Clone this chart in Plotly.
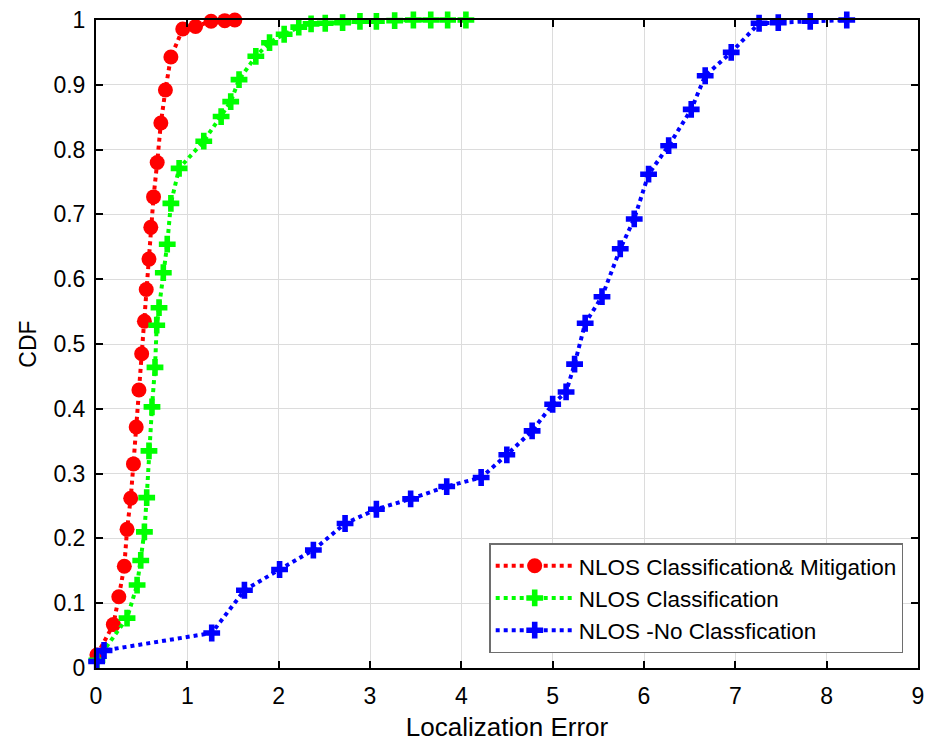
import plotly.graph_objects as go

# Red: NLOS Classification & Mitigation
red_x = [0.01, 0.19, 0.25, 0.31, 0.34, 0.38, 0.41, 0.44, 0.47, 0.50, 0.53, 0.55, 0.58, 0.60, 0.63, 0.67, 0.71, 0.76, 0.82, 0.95, 1.09, 1.26, 1.41, 1.52]
red_y = [0.020, 0.067, 0.110, 0.157, 0.214, 0.262, 0.315, 0.372, 0.429, 0.485, 0.535, 0.584, 0.631, 0.680, 0.727, 0.780, 0.841, 0.892, 0.943, 0.986, 0.990, 0.998, 0.999, 1.000]

# Green: NLOS Classification
green_x = [0.01, 0.34, 0.45, 0.49, 0.53, 0.555, 0.58, 0.613, 0.646, 0.665, 0.69, 0.737, 0.78, 0.82, 0.91, 1.18, 1.37, 1.475, 1.566, 1.75, 1.90, 2.06, 2.22, 2.355, 2.51, 2.70, 2.89, 3.07, 3.27, 3.475, 3.665, 3.85, 4.05]
green_y = [0.012, 0.077, 0.128, 0.166, 0.210, 0.263, 0.335, 0.403, 0.464, 0.529, 0.556, 0.610, 0.654, 0.717, 0.771, 0.813, 0.851, 0.874, 0.908, 0.944, 0.965, 0.978, 0.989, 0.994, 0.995, 0.996, 0.998, 0.998, 0.999, 1.000, 1.000, 1.000, 1.000]

# Blue: NLOS -No Classfication
blue_x = [0.007, 0.088, 1.267, 1.625, 2.01, 2.38, 2.727, 3.07, 3.445, 3.84, 4.217, 4.498, 4.775, 5.00, 5.147, 5.24, 5.356, 5.54, 5.74, 5.893, 6.05, 6.27, 6.517, 6.67, 6.955, 7.26, 7.47, 7.82, 8.22]
blue_y = [0.010, 0.027, 0.054, 0.120, 0.152, 0.182, 0.223, 0.245, 0.261, 0.280, 0.294, 0.329, 0.366, 0.407, 0.426, 0.469, 0.532, 0.573, 0.647, 0.693, 0.762, 0.806, 0.862, 0.914, 0.950, 0.995, 0.996, 0.998, 1.000]

x_ticks = [0, 1, 2, 3, 4, 5, 6, 7, 8, 9]
y_ticks = [0, 0.1, 0.2, 0.3, 0.4, 0.5, 0.6, 0.7, 0.8, 0.9, 1]
y_ticktext = ["0", "0.1", "0.2", "0.3", "0.4", "0.5", "0.6", "0.7", "0.8", "0.9", "1"]

FONT = "Liberation Sans, Arial, sans-serif"

fig = go.Figure()
fig.add_trace(go.Scatter(
    x=red_x, y=red_y, mode="lines+markers",
    name="NLOS Classification& Mitigation",
    line=dict(color="#ff0000", width=4, dash="dot"),
    marker=dict(symbol="circle", size=15, color="#ff0000", line=dict(width=0)),
    cliponaxis=False,
))
fig.add_trace(go.Scatter(
    x=green_x, y=green_y, mode="lines+markers",
    name="NLOS Classification",
    line=dict(color="#00ff00", width=4, dash="dot"),
    marker=dict(symbol="cross", size=14, color="#00ff00", line=dict(width=0)),
    cliponaxis=False,
))
fig.add_trace(go.Scatter(
    x=blue_x, y=blue_y, mode="lines+markers",
    name="NLOS -No Classfication",
    line=dict(color="#0000ff", width=4, dash="dot"),
    marker=dict(symbol="cross", size=14, color="#0000ff", line=dict(width=0)),
    cliponaxis=False,
))

axis_common = dict(
    showline=True, linecolor="black", linewidth=2, mirror="ticks",
    ticks="inside", ticklen=7, tickwidth=2, tickcolor="black",
    showgrid=True, gridcolor="#dcdcdc", gridwidth=1,
    zeroline=False, automargin=False,
    tickfont=dict(family=FONT, size=23, color="black"),
)

fig.update_layout(
    width=936, height=744,
    margin=dict(l=96, r=18, t=20, b=76),
    paper_bgcolor="white", plot_bgcolor="white",
    font=dict(family=FONT, color="black"),
    xaxis=dict(
        range=[0, 9], tickvals=x_ticks, ticklabelstandoff=6,
        title=dict(text="Localization Error", font=dict(family=FONT, size=26), standoff=10),
        **axis_common,
    ),
    yaxis=dict(
        range=[0, 1], tickvals=y_ticks, ticktext=y_ticktext, ticklabelstandoff=4,
        title=dict(text="CDF", font=dict(family=FONT, size=23), standoff=10),
        **axis_common,
    ),
    legend=dict(
        x=0.982, y=0.023, xanchor="right", yanchor="bottom",
        bgcolor="white", bordercolor="#6e6e6e", borderwidth=1.5,
        font=dict(family=FONT, size=22.5, color="black"),
        itemwidth=78, tracegroupgap=0,
    ),
    showlegend=True,
)

fig.write_html("out.html")
